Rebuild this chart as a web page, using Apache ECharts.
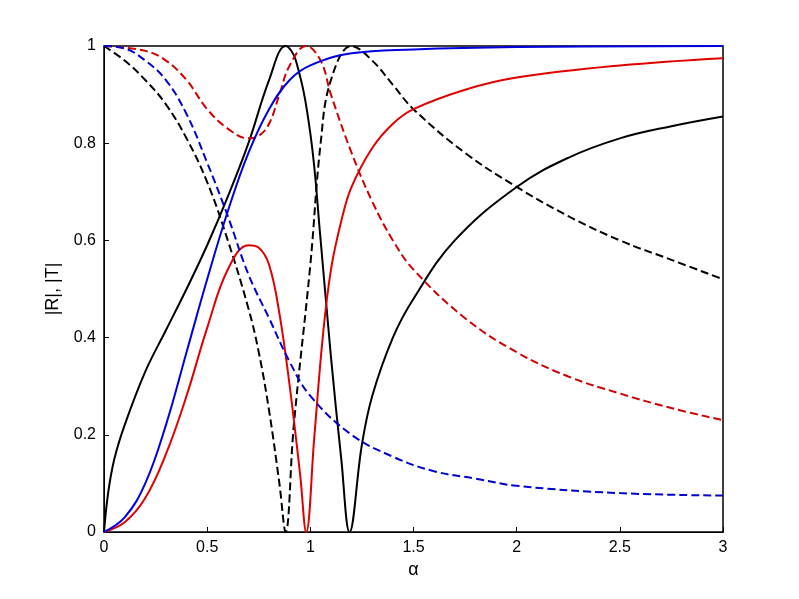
<!DOCTYPE html><html><head><meta charset="utf-8"><script src="https://cdn.jsdelivr.net/npm/echarts@6/dist/echarts.min.js"></script></head><body style="margin:0;background:#fff"><div id="c" style="width:799px;height:599px"></div><script>
const blackSolid=[[0,0],[0.02,0.08],[0.05,0.15],[0.1,0.22],[0.2,0.33],[0.3,0.415],[0.4,0.5],[0.5,0.59],[0.6,0.69],[0.7,0.8],[0.8,0.93],[0.88,1.0],[0.93,0.97],[1.0,0.82],[1.05,0.6],[1.1,0.36],[1.15,0.15],[1.19,0],[1.25,0.18],[1.3,0.28],[1.4,0.4],[1.5,0.48],[1.7,0.6],[2.0,0.71],[2.25,0.77],[2.5,0.81],[2.75,0.835],[3,0.855]];
const blackDashed=[[0,1],[0.1,0.97],[0.2,0.93],[0.3,0.88],[0.4,0.81],[0.5,0.72],[0.6,0.6],[0.7,0.46],[0.75,0.37],[0.8,0.25],[0.85,0.1],[0.88,0],[0.92,0.22],[1.0,0.55],[1.05,0.8],[1.1,0.93],[1.2,1.0],[1.3,0.97],[1.4,0.92],[1.5,0.87],[1.75,0.78],[2,0.71],[2.25,0.65],[2.5,0.6],[2.75,0.56],[3,0.52]];
const redSolid=[[0,0],[0.1,0.02],[0.2,0.07],[0.3,0.16],[0.4,0.28],[0.5,0.42],[0.6,0.54],[0.7,0.59],[0.75,0.585],[0.8,0.55],[0.85,0.45],[0.9,0.3],[0.95,0.12],[0.98,0],[1.02,0.2],[1.06,0.4],[1.1,0.54],[1.15,0.64],[1.2,0.71],[1.3,0.79],[1.4,0.84],[1.5,0.87],[1.75,0.91],[2,0.935],[2.5,0.96],[3,0.975]];
const redDashed=[[0,1],[0.2,0.99],[0.3,0.97],[0.4,0.93],[0.5,0.87],[0.6,0.83],[0.7,0.81],[0.75,0.815],[0.8,0.84],[0.85,0.9],[0.9,0.96],[0.98,1],[1.05,0.97],[1.1,0.9],[1.2,0.78],[1.3,0.68],[1.4,0.6],[1.5,0.54],[1.75,0.44],[2,0.37],[2.25,0.32],[2.5,0.285],[2.75,0.255],[3,0.23]];
const blueSolid=[[0,0],[0.1,0.03],[0.2,0.1],[0.3,0.22],[0.4,0.37],[0.5,0.52],[0.6,0.66],[0.7,0.78],[0.8,0.87],[0.9,0.93],[1,0.96],[1.2,0.985],[1.5,0.993],[2,0.998],[3,1]];
const blueDashed=[[0,1],[0.1,0.995],[0.2,0.97],[0.3,0.93],[0.4,0.86],[0.5,0.76],[0.6,0.65],[0.7,0.53],[0.8,0.44],[0.9,0.35],[1,0.28],[1.2,0.2],[1.4,0.155],[1.6,0.125],[1.8,0.11],[2,0.095],[2.5,0.08],[3,0.075]];
const ch=echarts.init(document.getElementById('c'));
function s(d,c,t){return {type:'line',data:d,smooth:0.4,showSymbol:false,lineStyle:{color:c,width:2,type:t},animation:false};}
const ax={axisLine:{show:true,lineStyle:{color:'#000'}},axisTick:{inside:true,lineStyle:{color:'#000'}},splitLine:{show:false},axisLabel:{color:'#000',fontSize:16,fontFamily:'Liberation Sans'}};
ch.setOption({animation:false,
grid:{left:104,right:76,top:46,bottom:67,show:true,borderColor:'#000',borderWidth:1.5},
xAxis:Object.assign({type:'value',min:0,max:3,interval:0.5,name:'α',nameLocation:'middle',nameGap:28,nameTextStyle:{fontSize:18,color:'#000'}},ax),
yAxis:Object.assign({type:'value',min:0,max:1,interval:0.2,name:'|R|, |T|',nameLocation:'middle',nameGap:42,nameTextStyle:{fontSize:18,color:'#000'}},ax),
series:[s(blackSolid,'#000','solid'),s(blackDashed,'#000','dashed'),s(redSolid,'#e00000','solid'),s(redDashed,'#d00000','dashed'),s(blueSolid,'#0000e0','solid'),s(blueDashed,'#0000d0','dashed')]});
</script></body></html>
